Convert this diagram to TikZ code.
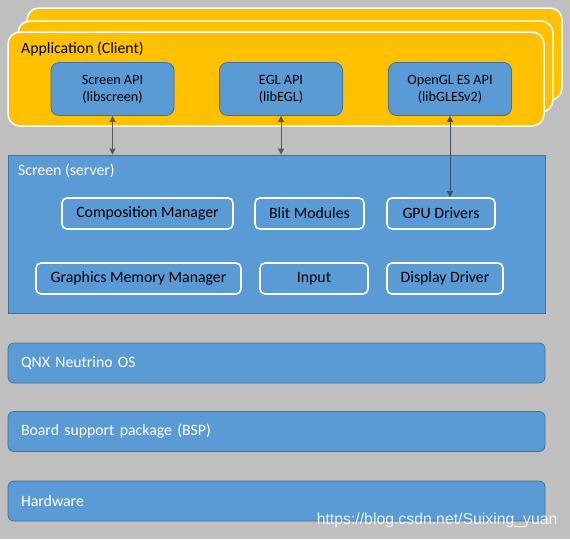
\documentclass[tikz,border=0pt]{standalone}
\usepackage{fontspec}
\setmainfont{Carlito}
\newfontfamily\markfont{Liberation Sans}
\usetikzlibrary{arrows.meta,positioning}
\definecolor{bggray}{HTML}{BFBFBF}
\definecolor{appyellow}{HTML}{FFC000}
\definecolor{blockblue}{HTML}{5B9BD5}
\definecolor{edgeblue}{HTML}{41719C}
\definecolor{arrowgray}{HTML}{595959}
\definecolor{arrowdark}{HTML}{3A4F66}

\begin{document}
\begin{tikzpicture}[x=1pt,y=-1pt,
  appbox/.style={draw=white,line width=1.5pt,fill=appyellow,rounded corners=12pt},
  apibox/.style={draw=edgeblue,line width=.8pt,fill=blockblue,rounded corners=8pt,minimum width=123pt,minimum height=53pt,align=center,font=\fontsize{14.2}{17}\selectfont},
  modbox/.style={draw=white,line width=1.6pt,fill=blockblue,rounded corners=5pt,minimum height=31pt,font=\fontsize{15.8}{18}\selectfont},
  layer/.style={draw=edgeblue,line width=.8pt,fill=blockblue,rounded corners=6pt,minimum height=40pt,text width=511pt,inner xsep=13pt,align=left,text=white,font=\fontsize{15.8}{18}\selectfont},
  tag/.style={anchor=west,inner sep=0pt,font=\fontsize{15.8}{18}\selectfont},
  link/.style={{Triangle[width=6pt,length=6pt]}-{Triangle[width=6pt,length=6pt]},line width=.9pt,draw=arrowgray}]
\fill[bggray] (0,0) rectangle (570,539);
\useasboundingbox (0,0) rectangle (570,539);
% client stack
\draw[appbox] (27,8) rectangle (562,100);
\draw[appbox] (18,21) rectangle (553,112);
\node[appbox,minimum width=536pt,minimum height=94pt] (app) at (276,79) {};
\node[tag] (apptag) at (21,49) {Application (Client)};
\node[apibox] (scrapi) at (112.5,89) {Screen API\\(libscreen)};
\node[apibox] (eglapi) at (281,89) {EGL API\\(libEGL)};
\node[apibox] (glesapi) at (450,89) {OpenGL ES API\\(libGLESv2)};
% server
\node[draw=edgeblue,line width=.8pt,fill=blockblue,minimum width=537pt,minimum height=158pt] (screen) at (276.5,234) {};
\node[tag,text=white] (screentag) at (18,171) {Screen (server)};
\node[modbox,minimum width=171pt] (comp) at (147.5,213.5) {Composition Manager};
\node[modbox,minimum width=109pt] (blit) at (309.5,213.5) {Blit Modules};
\node[modbox,minimum width=108pt] (gpu) at (441,213.5) {GPU Drivers};
\node[modbox,minimum width=205pt] (gmem) at (138.5,278.5) {Graphics Memory Manager};
\node[modbox,minimum width=108pt] (input) at (314,278.5) {Input};
\node[modbox,minimum width=116pt] (disp) at (445,278.5) {Display Driver};
% lower layers
\node[layer] (qnx) at (276.5,363) {QNX Neutrino OS};
\node[layer] (bsp) at (276.5,431.5) {Board support package (BSP)};
\node[layer] (hw) at (276.5,501) {Hardware};
% links
\draw[link] (scrapi.south) -- (scrapi.south |- screen.north);
\draw[link] (eglapi.south) -- (eglapi.south |- screen.north);
\draw[link,draw=arrowdark] (glesapi.south) -- (glesapi.south |- gpu.north);
\node[anchor=east,text=white,opacity=.85,font=\markfont\fontsize{15.8}{18}\selectfont] (mark) at (561,520) {https://blog.csdn.net/Suixing\_yuan};
\end{tikzpicture}
\end{document}
